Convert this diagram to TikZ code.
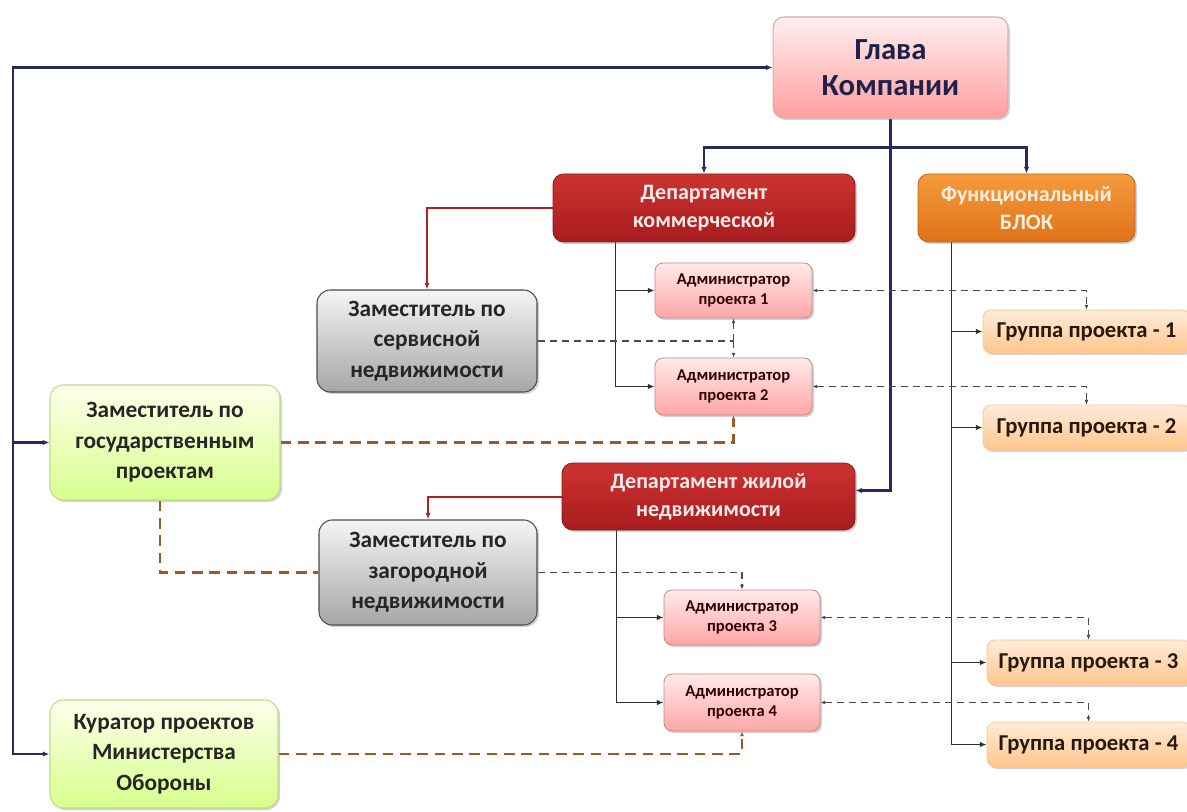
\documentclass[tikz,border=0pt]{standalone}
\usepackage{fontspec}
\setmainfont{Carlito}
\usetikzlibrary{arrows.meta,calc,shadows,backgrounds}

\definecolor{navy}{HTML}{262A5E}
\definecolor{deepred}{HTML}{B02026}
\definecolor{treegray}{HTML}{2E2E2E}
\definecolor{dashgray}{HTML}{4A4A4A}
\definecolor{dashbrown}{HTML}{9A5A28}
\definecolor{depttop}{HTML}{CC3330}
\definecolor{deptbot}{HTML}{A81C1E}
\definecolor{functop}{HTML}{F59A3C}
\definecolor{funcbot}{HTML}{E0721A}

\tikzset{
  card/.style={rounded corners=8pt, align=center, font=\bfseries, inner sep=2pt,
    drop shadow={opacity=0.35, shadow xshift=1.5pt, shadow yshift=-1.5pt}},
  headbox/.style={card, draw=pink!70!gray, line width=0.8pt,
    top color=pink!25!white, bottom color=red!30!pink!80!white,
    text=navy!80!black, font=\bfseries\fontsize{23}{27}\selectfont},
  deptbox/.style={card, draw=deptbot!85!black, line width=0.6pt,
    top color=depttop, bottom color=deptbot,
    text=red!8!white, font=\bfseries\fontsize{16.5}{21}\selectfont},
  funcbox/.style={card, draw=funcbot!85!black, line width=0.6pt,
    top color=functop, bottom color=funcbot,
    text=orange!12!white, font=\bfseries\fontsize{16.5}{21}\selectfont},
  adminbox/.style={card, rounded corners=6pt, draw=red!35!gray!70!white, line width=0.6pt,
    top color=red!8!white, bottom color=red!35!white,
    text=black!80!red, font=\bfseries\fontsize{12.4}{15.5}\selectfont},
  deputybox/.style={card, rounded corners=10pt, draw=black!70, line width=0.8pt,
    top color=black!4, bottom color=black!35,
    text=black!85, font=\bfseries\fontsize{17.5}{23}\selectfont},
  greenbox/.style={card, rounded corners=10pt, draw=green!40!yellow!60!gray!60!white, line width=0.8pt,
    top color=green!8!yellow!8!white, bottom color=green!35!yellow!45!white,
    text=black!85, font=\bfseries\fontsize{17.5}{23}\selectfont},
  groupbox/.style={card, rounded corners=6pt, draw=orange!45!white, line width=0.6pt,
    top color=orange!15!white, bottom color=orange!45!white,
    text=black!80!brown, font=\bfseries\fontsize{17}{20}\selectfont},
  navyline/.style={draw=navy, line width=2pt, -{Latex[length=5pt,width=4pt]}},
  redline/.style={draw=deepred, line width=1.5pt, -{Latex[length=5pt,width=4pt]}},
  treeline/.style={draw=treegray, line width=1.2pt, -{Latex[length=5pt,width=4pt]}},
  gdash/.style={draw=dashgray, line width=1.4pt, dash pattern=on 5.5pt off 3.5pt},
  bdash/.style={draw=dashbrown, line width=1.9pt, dash pattern=on 8pt off 5pt},
  smalltip/.style={-{Latex[length=3.5pt,width=3pt]}},
  smalltips/.style={{Latex[length=3.5pt,width=3pt]}-{Latex[length=3.5pt,width=3pt]}}
}

\begin{document}
\begin{tikzpicture}[x=0.75pt,y=-0.75pt]
\useasboundingbox (0,0) rectangle (1187,812);

% boxes
\node[headbox, minimum width=176pt, minimum height=75.75pt] (glava) at (890.5,67.5) {Глава\\Компании};
\node[deptbox, minimum width=226.5pt, minimum height=51pt] (depk) at (704,208) {Департамент\\коммерческой};
\node[funcbox, minimum width=162.75pt, minimum height=51pt] (func) at (1026.5,208) {Функциональный\\БЛОК};
\node[adminbox, minimum width=117.75pt, minimum height=41.25pt] (adm1) at (733.5,290.5) {Администратор\\проекта 1};
\node[adminbox, minimum width=117.75pt, minimum height=42.75pt] (adm2) at (733.5,386.5) {Администратор\\проекта 2};
\node[deputybox, minimum width=165pt, minimum height=76.5pt] (zserv) at (427,341) {Заместитель по\\сервисной\\недвижимости};
\node[groupbox, minimum width=155.25pt, minimum height=32.25pt] (grp1) at (1086.5,331.5) {Группа проекта - 1};
\node[groupbox, minimum width=155.25pt, minimum height=33.75pt] (grp2) at (1086.5,427.5) {Группа проекта - 2};
\node[greenbox, minimum width=172.5pt, minimum height=86.25pt] (zgos) at (165,442.5) {Заместитель по\\государственным\\проектам};
\node[deptbox, minimum width=219.75pt, minimum height=50.25pt] (depj) at (708.5,496.5) {Департамент жилой\\недвижимости};
\node[deputybox, minimum width=163.5pt, minimum height=78.75pt] (zzag) at (428,572.5) {Заместитель по\\загородной\\недвижимости};
\node[adminbox, minimum width=117pt, minimum height=41.25pt] (adm3) at (742,617.5) {Администратор\\проекта 3};
\node[adminbox, minimum width=117pt, minimum height=42.75pt] (adm4) at (742,702.5) {Администратор\\проекта 4};
\node[groupbox, minimum width=152.25pt, minimum height=33.75pt] (grp3) at (1088.5,662.5) {Группа проекта - 3};
\node[groupbox, minimum width=152.25pt, minimum height=33.75pt] (grp4) at (1088.5,744.5) {Группа проекта - 4};
\node[greenbox, minimum width=171pt, minimum height=81pt] (kur) at (164,754) {Куратор проектов\\Министерства\\Обороны};

% connectors, kept behind the boxes
\begin{pgfonlayer}{background}
  \fill[white] (0,0) rectangle (1187,812);
  % head of company: left trunk
  \coordinate (trunk) at (13,0);
  \draw[navyline, {Latex[length=5pt,width=4pt]}-{Latex[length=5pt,width=4pt]}]
    (glava.west) -- (glava.west -| trunk) |- (zgos.west);
  \draw[navyline] (glava.west -| trunk) |- (kur.west);
  % head of company: downwards
  \draw[navyline] (glava.south) -- ++(0,29) -| (depk.north);
  \draw[navyline] (glava.south) -- ++(0,29) -| (func.north);
  \draw[navyline] (glava.south) |- ($(depj.east)+(0,-6)$);

  % departments to their deputies
  \draw[redline] (depk.west) -| (zserv.north);
  \draw[redline] (depj.west) -| (zzag.north);

  % departments to project administrators
  \coordinate (tk) at ($(depk.south west)+(63,0)$);
  \draw[treeline] (tk) |- (adm1.west);
  \draw[treeline] (tk) |- (adm2.west);
  \coordinate (tj) at ($(depj.south west)+(55,0)$);
  \draw[treeline] (tj) |- (adm3.west);
  \draw[treeline] (tj) |- (adm4.west);

  % functional block to project groups
  \coordinate (tf) at ($(func.south west)+(34,0)$);
  \draw[treeline] (tf) |- (grp1.west);
  \draw[treeline] (tf) |- (grp2.west);
  \draw[treeline] (tf) |- (grp3.west);
  \draw[treeline] (tf) |- (grp4.west);

  % deputy for service real estate to administrators 1 and 2
  \coordinate (j12) at (zserv.east -| adm1.south);
  \draw[gdash] (zserv.east) -- (j12);
  \draw[gdash, smalltip] (j12) -- (adm1.south);
  \draw[gdash, smalltip] (j12) -- (adm2.north);

  % deputy for suburban real estate to administrator 3
  \draw[gdash, smalltip] (zzag.east) -| (adm3.north);

  % administrators to project groups
  \draw[gdash, smalltips] (adm1.east) -| (grp1.north);
  \draw[gdash, smalltips] (adm2.east) -| (grp2.north);
  \draw[gdash, smalltips] (adm3.east) -| (grp3.north);
  \draw[gdash, smalltips] (adm4.east) -| (grp4.north);

  % state projects and defence ministry links
  \draw[bdash, smalltip] (zgos.east) -| (adm2.south);
  \draw[bdash] ($(zgos.south)+(-5,0)$) |- (zzag.west);
  \draw[bdash, smalltip] (kur.east) -| (adm4.south);
\end{pgfonlayer}
\end{tikzpicture}
\end{document}
